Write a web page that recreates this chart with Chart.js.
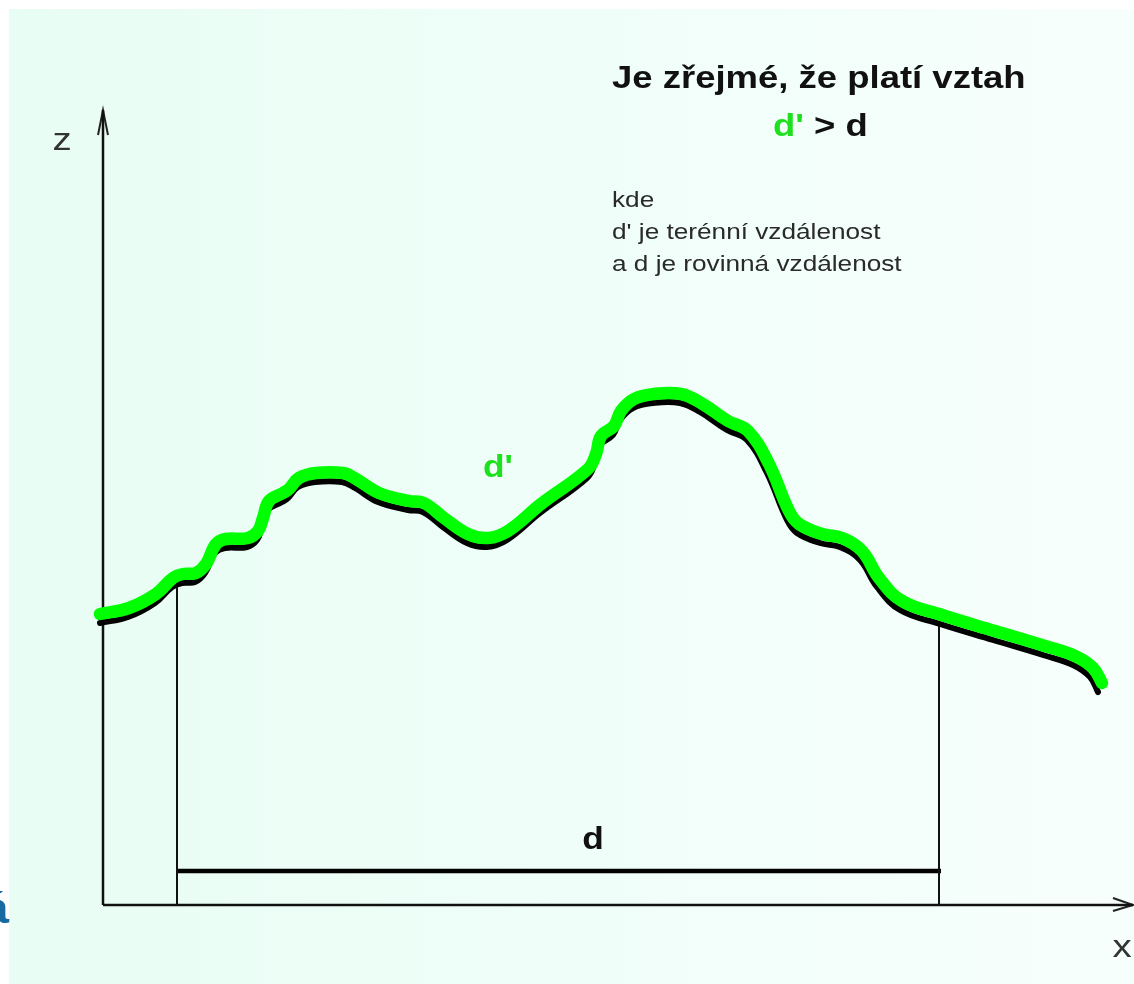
<!DOCTYPE html>
<html>
<head>
<meta charset="utf-8">
<script src="https://cdn.jsdelivr.net/npm/chart.js@4.4.1/dist/chart.umd.min.js"></script>
<style>
html,body{margin:0;padding:0;background:#fff;}
#wrap{position:relative;width:1134px;height:984px;}
</style>
</head>
<body>
<div id="wrap"><canvas id="c"></canvas></div>
<script>
// Terrain profile (x = horizontal distance from origin, z = height above x axis)
const terrainX = [-3,25,52,69,79,92,102,112,122,144,154,159,165,179,185,195,212,239,252,275,305,320,340,364,384,404,437,484,492,497,510,517,530,550,577,597,624,644,664,684,694,717,737,757,774,797,837,890,940,970,987,995];
const terrainZ = [282,288,302,318,322,323,332,352,357,358,365,378,395,403,407,418,423,423,417,403,395,393,378,362,358,365,392,427,442,460,470,485,497,502,502,493,475,465,432,385,372,362,358,345,318,295,281,265,250,240,228,213];
// Terrain (surface) distance d' drawn as highlighted green line
const surfaceX = [-3,26,53,70,80,93,103,113,123,145,155,160,166,180,186,196,213,240,253,276,306,321,341,365,385,405,438,485,493,498,511,518,531,551,578,598,625,645,666,686,696,719,739,759,776,799,839,892,942,972,990,999];
const surfaceZ = [291,297,311,327,331,332,341,361,366,367,374,387,404,412,416,427,432,432,426,412,404,402,387,371,367,374,401,436,451,469,479,494,506,511,511,502,484,474,441,394,381,371,367,354,327,304,290,274,259,249,237,222];
// Start and end of the measured distance
const dStartX = 74, dStartZ = 318;
const dEndX = 836, dEndZ = 281;
const dLineZ = 34;
// Axes extents
const axisXMax = 1030, axisZMax = 795;

const pts = (xs, zs) => xs.map((x, i) => ({x, y: zs[i]}));

const bgPlugin = {
  id: 'bg',
  beforeDraw(chart) {
    const ctx = chart.ctx, w = chart.width, h = chart.height;
    ctx.save();
    ctx.fillStyle = '#ffffff';
    ctx.fillRect(0, 0, w, h);
    const g = ctx.createLinearGradient(9, 0, w, 0);
    g.addColorStop(0, '#e8fdf4');
    g.addColorStop(1, '#f7fffd');
    ctx.fillStyle = g;
    ctx.fillRect(9, 9, w - 9, h - 9);
    ctx.restore();
  }
};

function stretchText(ctx, text, x, y, font, color, align, sx) {
  ctx.save();
  ctx.font = font;
  ctx.fillStyle = color;
  ctx.textBaseline = 'alphabetic';
  const w = ctx.measureText(text).width * sx;
  let left = x;
  if (align === 'center') left = x - w / 2;
  else if (align === 'right') left = x - w;
  ctx.translate(left, y);
  ctx.scale(sx, 1);
  ctx.textAlign = 'left';
  ctx.fillText(text, 0, 0);
  ctx.restore();
  return w;
}

const textPlugin = {
  id: 'texts',
  afterDraw(chart) {
    const ctx = chart.ctx;
    const SX = 1.14;
    const F = '"Liberation Sans", Arial, Helvetica, sans-serif';
    stretchText(ctx, 'Je zřejmé, že platí vztah', 612, 88, 'bold 32px ' + F, '#111111', 'left', SX);
    const w1 = stretchText(ctx, "d'", 773, 136, 'bold 32px ' + F, '#1ee01e', 'left', SX);
    stretchText(ctx, ' > d', 773 + w1, 136, 'bold 32px ' + F, '#111111', 'left', SX);
    stretchText(ctx, 'kde', 612, 207, '22px ' + F, '#2a2a2a', 'left', 1.19);
    stretchText(ctx, "d' je terénní vzdálenost", 612, 239, '22px ' + F, '#2a2a2a', 'left', 1.19);
    stretchText(ctx, 'a d je rovinná vzdálenost', 612, 271, '22px ' + F, '#2a2a2a', 'left', 1.19);
    stretchText(ctx, 'z', 62, 150, '32px ' + F, '#333333', 'center', 1.2);
    stretchText(ctx, 'x', 1122, 957, '32px ' + F, '#333333', 'center', 1.2);
    stretchText(ctx, "d'", 483, 477, 'bold 31px ' + F, '#1ee01e', 'left', SX);
    stretchText(ctx, 'd', 593, 849, 'bold 31px ' + F, '#111111', 'center', SX);
    stretchText(ctx, 'á', 9, 923, 'bold 44px ' + F, '#1769a0', 'right', 1.2);
  }
};

const lineDs = (data, color, width, extra) => Object.assign({
  data, borderColor: color, borderWidth: width, showLine: true,
  pointRadius: 0, pointHoverRadius: 0, fill: false, tension: 0,
  borderCapStyle: 'butt', borderJoinStyle: 'miter'
}, extra || {});

new Chart(document.getElementById('c'), {
  type: 'scatter',
  data: {
    datasets: [
      lineDs(pts(surfaceX, surfaceZ), '#00ff00', 12.5, {tension: 0.4, borderCapStyle: 'round', borderJoinStyle: 'round', order: 0}),
      lineDs(pts(terrainX, terrainZ), '#000', 6, {tension: 0.4, borderCapStyle: 'round', borderJoinStyle: 'round', order: 1}),
      lineDs([{x: 0, y: 0}, {x: axisXMax, y: 0}], '#111', 2.5, {order: 2}),
      lineDs([{x: 0, y: 0}, {x: 0, y: axisZMax}], '#111', 2.5, {order: 2}),
      lineDs([{x: axisXMax - 20, y: 7}, {x: axisXMax, y: 0}, {x: axisXMax - 20, y: -6}], '#222', 2, {order: 2}),
      lineDs([{x: -5, y: axisZMax - 25}, {x: 0, y: axisZMax}, {x: 5, y: axisZMax - 25}], '#222', 2, {order: 2}),
      lineDs([{x: dStartX, y: 0}, {x: dStartX, y: dStartZ}], '#111', 2, {order: 2}),
      lineDs([{x: dEndX, y: 0}, {x: dEndX, y: dEndZ}], '#111', 2, {order: 2}),
      lineDs([{x: dStartX, y: dLineZ}, {x: dEndX + 2, y: dLineZ}], '#000', 4.5, {order: 2})
    ]
  },
  options: {
    responsive: true,
    maintainAspectRatio: false,
    animation: false,
    events: [],
    layout: {padding: 0},
    plugins: {legend: {display: false}, tooltip: {enabled: false}, title: {display: false}},
    scales: {
      x: {type: 'linear', min: -103, max: 1031, display: false},
      y: {type: 'linear', min: -79, max: 905, display: false}
    }
  },
  plugins: [bgPlugin, textPlugin]
});
</script>
</body>
</html>
